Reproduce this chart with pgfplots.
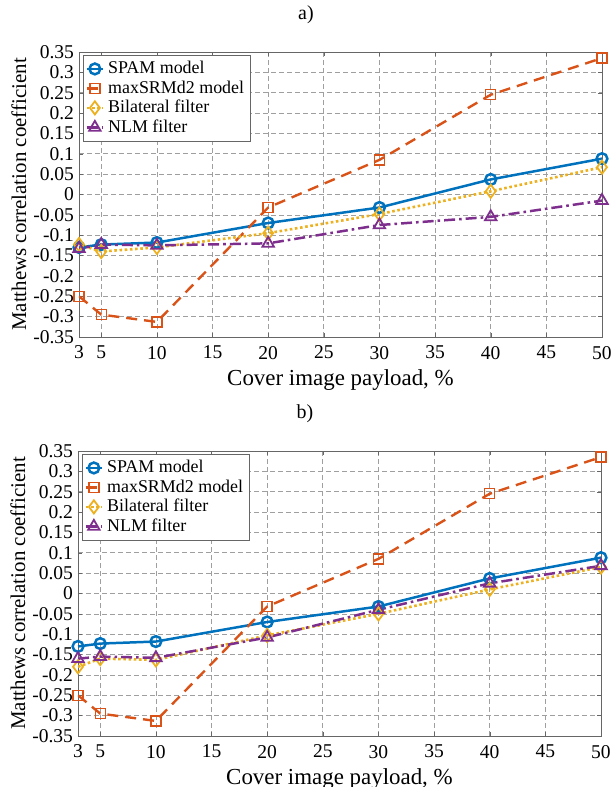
\documentclass[border=0pt]{standalone}
\usepackage{fontspec}
\setmainfont{Liberation Serif}
\usepackage{pgfplots}
\pgfplotsset{compat=1.18}

\definecolor{mblue}{RGB}{0,114,189}
\definecolor{morange}{RGB}{217,83,25}
\definecolor{myellow}{RGB}{237,177,32}
\definecolor{mpurple}{RGB}{126,47,142}

\pgfplotsset{
  mcc/.style={
    width=261.5bp, height=142.5bp, scale only axis,
    xmin=3, xmax=50, ymin=-0.35, ymax=0.35,
    xtick={3,5,10,15,20,25,30,35,40,45,50},
    ytick={-0.35,-0.3,-0.25,-0.2,-0.15,-0.1,-0.05,0,0.05,0.1,0.15,0.2,0.25,0.3,0.35},
    yticklabels={-0.35,-0.3,-0.25,-0.2,-0.15,-0.1,-0.05,0,0.05,0.1,0.15,0.2,0.25,0.3,0.35},
    /pgf/number format/assume math mode=true,
    ticklabel style={font=\fontsize{9.8}{10}\selectfont},
    xticklabel style={yshift=-1bp},
    yticklabel style={xshift=1bp},
    grid=major,
    major grid style={gray!75, dashed, dash pattern=on 2.5bp off 1.5bp, line width=0.35pt},
    axis line style={gray!80!black, line width=0.45pt},
    tick style={gray!80!black},
    major tick length=2bp,
    tick pos=both,
    xlabel={Cover image payload, \%},
    ylabel={Matthews correlation coefficient},
    xlabel style={at={(0.5,-0.151)}, anchor=center, font=\fontsize{11.5}{12}\selectfont},
    ylabel style={at={(-0.115,0.5)}, anchor=center, font=\fontsize{10.5}{12}\selectfont},
    title style={at={(0.434,1)}, anchor=south, yshift=4.5bp, font=\fontsize{10}{12}\selectfont},
    legend style={at={(0.008,0.99)}, anchor=north west, draw=gray!80!black,
      font=\fontsize{9}{10}\selectfont, inner sep=1pt, row sep=-2pt,
      /tikz/every even column/.append style={column sep=0pt}},
    legend cell align=left,
    legend image code/.code={
      \draw[mark repeat=2,mark phase=2] plot coordinates {(0bp,0bp) (4bp,0bp) (8bp,0bp)};
    },
  },
  spam/.style={mblue, line width=1.25pt, solid, mark=o, mark size=2.7bp, mark options={solid}},
  srm/.style={morange, line width=1.2pt, dash pattern=on 5.5bp off 3.5bp, mark=square, mark size=2.5bp, mark options={solid, line width=0.7pt}},
  bil/.style={myellow, line width=1.3pt, dash pattern=on 1.3bp off 1.3bp, mark=diamond, mark size=3.3bp, mark options={solid, line width=0.9pt}},
  nlm/.style={mpurple, line width=1.25pt, dash pattern=on 5.5bp off 2bp on 1.3bp off 2bp, mark=triangle, mark size=3.3bp, mark options={solid, line width=0.9pt}},
}

\begin{document}
\begin{tikzpicture}
\useasboundingbox (-39bp,-25.5bp) rectangle (267.5bp,368bp);

% panel a
\begin{axis}[mcc, at={(0.5bp,199.5bp)}, title={a)}]
\addplot[spam] coordinates {(3,-0.130) (5,-0.123) (10,-0.118) (20,-0.070) (30,-0.032) (40,0.037) (50,0.088)};
\addlegendentry{SPAM model}
\addplot[srm] coordinates {(3,-0.250) (5,-0.295) (10,-0.313) (20,-0.032) (30,0.085) (40,0.245) (50,0.335)};
\addlegendentry{maxSRMd2 model}
\addplot[bil] coordinates {(3,-0.123) (5,-0.140) (10,-0.130) (20,-0.095) (30,-0.048) (40,0.008) (50,0.067)};
\addlegendentry{Bilateral filter}
\addplot[nlm] coordinates {(3,-0.133) (5,-0.123) (10,-0.125) (20,-0.120) (30,-0.075) (40,-0.055) (50,-0.015)};
\addlegendentry{NLM filter}
\end{axis}

% panel b
\begin{axis}[mcc, at={(0bp,0bp)}, title={b)}]
\addplot[spam] coordinates {(3,-0.130) (5,-0.123) (10,-0.118) (20,-0.070) (30,-0.032) (40,0.037) (50,0.088)};
\addlegendentry{SPAM model}
\addplot[srm] coordinates {(3,-0.250) (5,-0.295) (10,-0.313) (20,-0.032) (30,0.085) (40,0.245) (50,0.335)};
\addlegendentry{maxSRMd2 model}
\addplot[bil] coordinates {(3,-0.180) (5,-0.160) (10,-0.163) (20,-0.103) (30,-0.050) (40,0.010) (50,0.065)};
\addlegendentry{Bilateral filter}
\addplot[nlm] coordinates {(3,-0.160) (5,-0.155) (10,-0.158) (20,-0.108) (30,-0.040) (40,0.025) (50,0.068)};
\addlegendentry{NLM filter}
\end{axis}
\end{tikzpicture}
\end{document}
